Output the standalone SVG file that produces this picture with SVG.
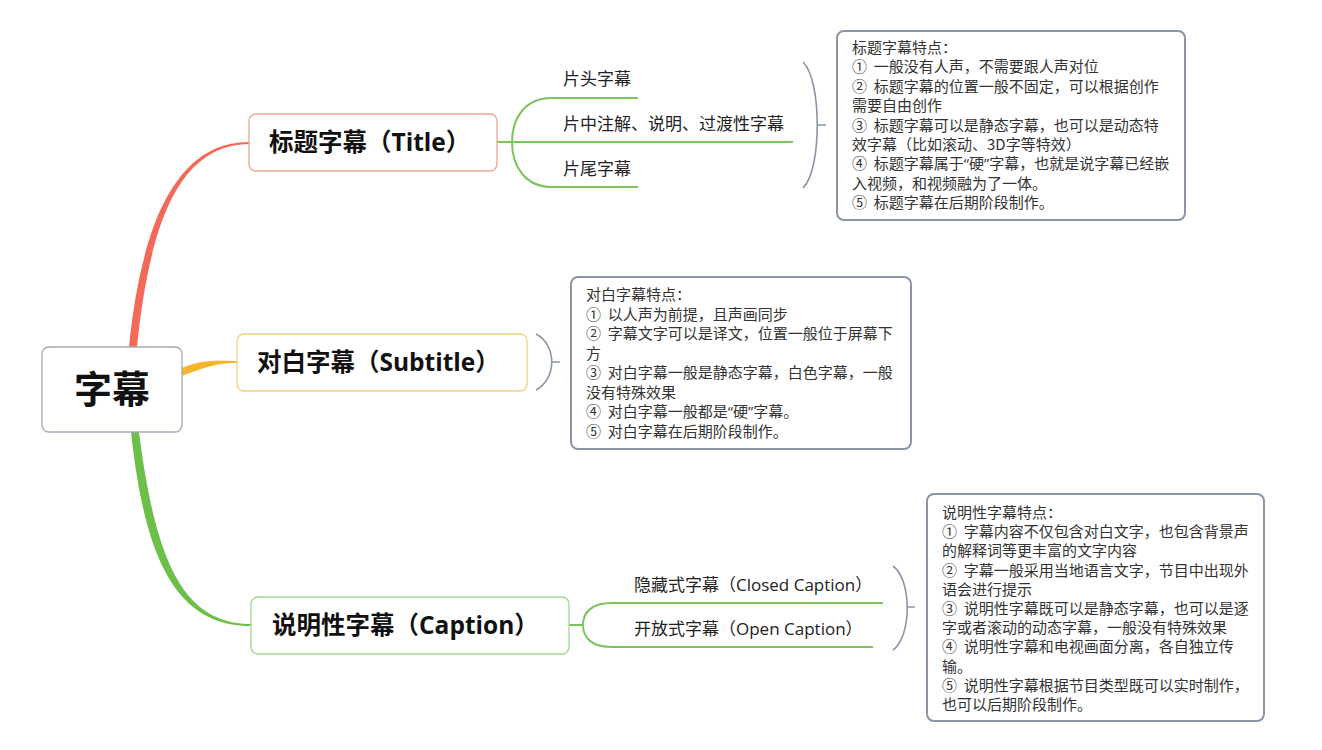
<svg xmlns="http://www.w3.org/2000/svg" width="1322" height="750" viewBox="0 0 1322 750">
<style>
.bg{fill:#ffffff}
.node{fill:#ffffff;stroke-width:1.3}
.main{font-family:"Open Sans","Noto Sans CJK SC",sans-serif;font-weight:bold;fill:#111}
.sub{font-family:"Open Sans","Noto Sans CJK SC",sans-serif;font-size:17px;fill:#222}
.note{fill:#ffffff;stroke:#8c95a6;stroke-width:2}
.nt{font-family:"Noto Sans CJK SC","Open Sans",sans-serif;font-size:15px;fill:#333}
.q{font-family:"Open Sans",sans-serif}
.gl{fill:none;stroke:#7cc35e;stroke-width:2}
.br{fill:none;stroke:#8c95a6;stroke-width:1.6}
</style>
<rect class="bg" x="0" y="0" width="1322" height="750"/>
<g id="connectors">
<path d="M129,347 C141,229 174,142 249,142 L249,144 C176,145 149,231 137,347 Z" fill="#f36b58"/>
<path d="M182,368 C204,359 215,361 237,361 L237,363 C216,363 206,367 182,376 Z" fill="#f7b52c"/>
<path d="M131,432 C145,563 178,626 251,626 L251,624 C182,624 155,558 139,432 Z" fill="#6cc04a"/>
<path class="gl" d="M497,142 L512,142 M512,142 C512,118 525,98 552,98 L638,98 M512,142 L793,142 M512,142 C512,166 525,187 552,187 L638,187"/>
<path class="gl" d="M569,625 L583,625 M583,625 C583,612 592,603 612,603 L883,603 M583,625 C583,638 592,647 612,647 L873,647"/>
<path class="br" d="M803,62 C822,80 822,170 803,188 M818,125 L826,125"/>
<path class="br" d="M536,334 C557,345 557,379 536,390 M552,362 L560,362"/>
<path class="br" d="M893,566 C912,580 912,636 893,650 M907,607 L915,607"/>
</g>
<g id="root">
<rect class="node" x="42" y="347" width="140" height="85" rx="7" stroke="#a3aaba"/>
<text class="main" x="112" y="403" font-size="38" text-anchor="middle">字幕</text>
</g>
<g id="title">
<rect class="node" x="249" y="114" width="248" height="57" rx="7" stroke="#efa596"/>
<text class="main" x="269" y="151" font-size="24.5">标题字幕（Title）</text>
</g>
<g id="title-1"><text class="sub" x="563" y="85">片头字幕</text></g>
<g id="title-2"><text class="sub" x="563" y="130">片中注解、说明、过渡性字幕</text></g>
<g id="title-3"><text class="sub" x="563" y="175">片尾字幕</text></g>
<g id="title-note">
<rect class="note" x="837" y="31" width="348" height="189" rx="7"/>
<text class="nt">
<tspan x="852" y="53">标题字幕特点：</tspan>
<tspan x="852" y="72.4">①&#160; 一般没有人声，不需要跟人声对位</tspan>
<tspan x="852" y="91.8">②&#160; 标题字幕的位置一般不固定，可以根据创作</tspan>
<tspan x="852" y="111.2">需要自由创作</tspan>
<tspan x="852" y="130.6">③&#160; 标题字幕可以是静态字幕，也可以是动态特</tspan>
<tspan x="852" y="150">效字幕（比如滚动、3D字等特效）</tspan>
<tspan x="852" y="169.4">④&#160; 标题字幕属于<tspan class="q">“</tspan>硬<tspan class="q">”</tspan>字幕，也就是说字幕已经嵌</tspan>
<tspan x="852" y="188.8">入视频，和视频融为了一体。</tspan>
<tspan x="852" y="208.2">⑤&#160; 标题字幕在后期阶段制作。</tspan>
</text>
</g>
<g id="subtitle">
<rect class="node" x="237" y="334" width="290" height="57" rx="7" stroke="#f5d07a"/>
<text class="main" x="257" y="371" font-size="24.5">对白字幕（Subtitle）</text>
</g>
<g id="subtitle-note">
<rect class="note" x="571" y="277" width="340" height="172" rx="7"/>
<text class="nt">
<tspan x="586" y="300">对白字幕特点：</tspan>
<tspan x="586" y="319.5">①&#160; 以人声为前提，且声画同步</tspan>
<tspan x="586" y="339">②&#160; 字幕文字可以是译文，位置一般位于屏幕下</tspan>
<tspan x="586" y="358.5">方</tspan>
<tspan x="586" y="378">③&#160; 对白字幕一般是静态字幕，白色字幕，一般</tspan>
<tspan x="586" y="397.5">没有特殊效果</tspan>
<tspan x="586" y="417">④&#160; 对白字幕一般都是<tspan class="q">“</tspan>硬<tspan class="q">”</tspan>字幕。</tspan>
<tspan x="586" y="436.5">⑤&#160; 对白字幕在后期阶段制作。</tspan>
</text>
</g>
<g id="caption">
<rect class="node" x="251" y="597" width="318" height="57" rx="7" stroke="#a6d68e"/>
<text class="main" x="272" y="634" font-size="24.5">说明性字幕（Caption）</text>
</g>
<g id="caption-1"><text class="sub" x="634" y="591">隐藏式字幕（Closed Caption）</text></g>
<g id="caption-2"><text class="sub" x="634" y="635">开放式字幕（Open Caption）</text></g>
<g id="caption-note">
<rect class="note" x="927" y="494" width="337" height="227" rx="7"/>
<text class="nt">
<tspan x="942" y="518">说明性字幕特点：</tspan>
<tspan x="942" y="537.2">①&#160; 字幕内容不仅包含对白文字，也包含背景声</tspan>
<tspan x="942" y="556.4">的解释词等更丰富的文字内容</tspan>
<tspan x="942" y="575.6">②&#160; 字幕一般采用当地语言文字，节目中出现外</tspan>
<tspan x="942" y="594.8">语会进行提示</tspan>
<tspan x="942" y="614">③&#160; 说明性字幕既可以是静态字幕，也可以是逐</tspan>
<tspan x="942" y="633.2">字或者滚动的动态字幕，一般没有特殊效果</tspan>
<tspan x="942" y="652.4">④&#160; 说明性字幕和电视画面分离，各自独立传</tspan>
<tspan x="942" y="671.6">输。</tspan>
<tspan x="942" y="690.8">⑤&#160; 说明性字幕根据节目类型既可以实时制作，</tspan>
<tspan x="942" y="710">也可以后期阶段制作。</tspan>
</text>
</g>
</svg>
